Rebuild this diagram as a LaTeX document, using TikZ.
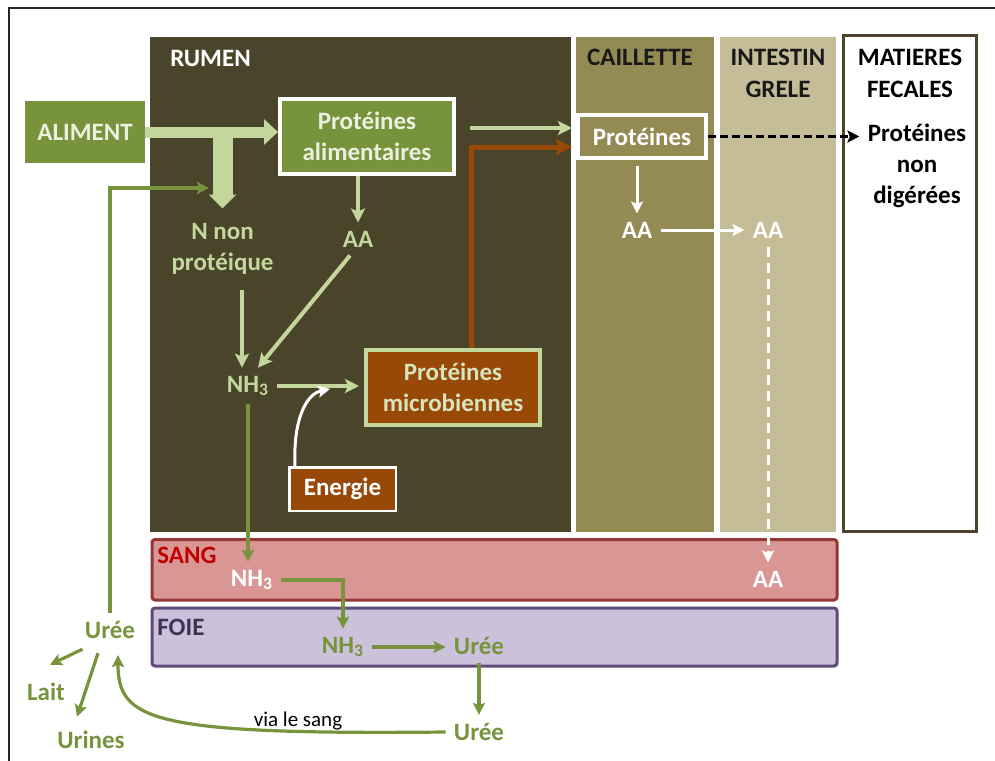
\documentclass[tikz,border=0pt]{standalone}
\usepackage{fontspec}
\setmainfont{Carlito}
\usetikzlibrary{arrows.meta,positioning,calc}
\definecolor{rumen}{HTML}{4A452A}
\definecolor{caill}{HTML}{948A54}
\definecolor{intest}{HTML}{C4BD97}
\definecolor{vert}{HTML}{77933C}
\definecolor{vertclair}{HTML}{C3D69B}
\definecolor{vertpale}{HTML}{D7E4BD}
\definecolor{blanccasse}{HTML}{EBF1DE}
\definecolor{brun}{HTML}{984807}
\definecolor{sangfond}{HTML}{D99694}
\definecolor{sangbord}{HTML}{953735}
\definecolor{sangtxt}{HTML}{C00000}
\definecolor{foiefond}{HTML}{CCC1DA}
\definecolor{foiebord}{HTML}{604A7B}
\definecolor{foietxt}{HTML}{3F3151}

\begin{document}
\begin{tikzpicture}[
    x=0.5pt, y=-0.5pt,
    font=\fontsize{12.5}{15.5}\selectfont\bfseries,
    box/.style={rectangle, align=center, inner sep=2pt},
    lab/.style={align=center, inner sep=4pt},
    zone/.style={align=center, inner sep=2pt},
    arrvc/.style={-{Stealth[length=7pt, width=7pt, inset=1.5pt]}, line width=2pt, draw=vertclair},
    arrvf/.style={-{Stealth[length=6pt, width=6pt, inset=1.2pt]}, line width=1.6pt, draw=vert},
    arrbl/.style={-{Stealth[length=6pt, width=6pt, inset=1.2pt]}, line width=1.5pt, draw=white},
    arrbr/.style={-{Stealth[length=8pt, width=8pt, inset=1.5pt]}, line width=2.5pt, draw=brun},
    grosse/.style={draw=vertclair, line width=5.5pt, -{Triangle[length=7pt, width=12.5pt]}}
  ]
    \useasboundingbox (0,0) rectangle (995,760);
    \draw[line width=1pt, black!85] (9,780) |- (1010,8);

    % compartiments
    \fill[rumen] (150,37) rectangle (571,532);
    \node[zone, text=white, anchor=west] (trumen) at (166,58) {RUMEN};
    \fill[caill] (576,37) rectangle (714,532);
    \node[zone, text=black!90] (tcaill) at (640,57) {CAILLETTE};
    \fill[intest] (720,37) rectangle (836,532);
    \node[zone, text=black!90, font=\fontsize{12.5}{16}\selectfont\bfseries] (tint) at (778,73) {INTESTIN\\GRELE};
    \draw[draw=rumen, line width=1.5pt, fill=white] (843.5,35.5) rectangle (976.5,531.5);
    \node[zone, text=black, font=\fontsize{12.5}{16}\selectfont\bfseries] (tmat) at (910,73) {MATIERES\\FECALES};
    \draw[draw=sangbord, fill=sangfond, line width=1.5pt, rounded corners=1.5pt] (152,539.5) rectangle (837,600);
    \node[zone, text=sangtxt, anchor=west] (tsang) at (153,555) {SANG};
    \draw[draw=foiebord, fill=foiefond, line width=1.5pt, rounded corners=1.5pt] (152,608) rectangle (837,666);
    \node[zone, text=foietxt, anchor=west] (tfoie) at (153,627) {FOIE};

    % boites
    \node[box, fill=vert, text=blanccasse, minimum width=60pt, minimum height=31pt] (alim) at (85,132) {ALIMENT};
    \node[box, fill=vert, draw=white, line width=2pt, text=blanccasse, minimum width=87pt, minimum height=37.5pt] (protalim) at (367,136.5) {Protéines\\alimentaires};
    \node[box, fill=brun, draw=vertclair, line width=2pt, text=vertpale, minimum width=87pt, minimum height=37.5pt] (pm) at (453,387.5) {Protéines\\microbiennes};
    \node[box, fill=brun, draw=white, line width=1.25pt, text=white, minimum width=53.25pt, minimum height=21.75pt] (energie) at (342.5,489) {Energie};
    \node[box, fill=caill, draw=white, line width=2pt, text=white, minimum width=64pt, minimum height=21.5pt] (protc) at (642,136.5) {Protéines};

    % textes
    \node[lab, text=vertclair] (nnp) at (222.5,248.5) {N non\\protéique};
    \node[lab, text=vertclair] (aa1) at (358,239) {AA};
    \node[lab, text=vertclair] (nh3r) at (248,386) {NH\textsubscript{3}};
    \node[lab, text=white] (aa2) at (637,230) {AA};
    \node[lab, text=white] (aa3) at (768,230) {AA};
    \node[lab, text=black] (pnd) at (917,166) {Protéines\\non\\digérées};
    \node[lab, text=white] (aa4) at (768,579) {AA};
    \node[lab, text=white] (nh3s) at (252,580) {NH\textsubscript{3}};
    \node[lab, text=vert] (nh3f) at (343,647) {NH\textsubscript{3}};
    \node[lab, text=vert] (ureef) at (479,646) {Urée};
    \node[lab, text=vert] (ureeb) at (479,732) {Urée};
    \node[lab, text=vert] (ureel) at (110,630) {Urée};
    \node[lab, text=vert] (lait) at (46,692) {Lait};
    \node[lab, text=vert] (urines) at (91,740) {Urines};
    \node[lab, text=black, font=\fontsize{10.5}{12}\selectfont] (via) at (298,721) {via le sang};
    \coordinate (tin) at (209,188);
    \coordinate (nrg) at (330,389);

    % fleches rumen
    \draw[grosse] (alim.east) -- (alim.east -| protalim.west);
    \draw[grosse, line width=10pt, -{Triangle[length=7pt, width=13.5pt]}, shorten >=3pt] (alim.east -| nnp.north) -- (nnp.north);
    \draw[arrvf] (ureel.north) |- (tin);
    \draw[arrvc] (aa1 |- protalim.south) -- (aa1.north);
    \draw[arrvc, shorten <=4pt] ([xshift=-3pt]nnp.south -| nh3r.north) -- ([xshift=-3pt]nh3r.north);
    \draw[arrvc] ($(aa1.south)+(-8,0)$) -- ($(nh3r.north)+(10,0)$);
    \draw[arrvc, shorten >=2.5pt] (nh3r.east) -- (nh3r.east -| pm.west);
    \draw[arrbl] ($(energie.north west)+(7,0)$) .. controls (293,420) and (306,394) .. (nrg);
    \draw[arrbr, shorten >=2pt] ($(pm.north)+(18,0)$) |- ($(protc.west)+(0,10.5)$);
    \draw[arrvc, shorten >=2pt] ($(protalim.east)+(14,-8.5)$) -- ($(protc.west)+(0,-8.5)$);

    % digestion
    \draw[black, line width=1.5pt, dash pattern=on 4pt off 2pt, -{Stealth[length=6pt, width=6pt, inset=1.2pt]}] (protc.east) -- (protc.east -| pnd.west);
    \draw[arrbl, shorten <=3pt] (protc.south -| aa2) -- (aa2.north);
    \draw[arrbl] (aa2.east) -- (aa2.east -| aa3.west);
    \draw[arrbl, dash pattern=on 5pt off 3pt] (aa3.south) -- (aa4.north);

    % sang, foie
    \draw[arrvf] (nh3r.south) -- (nh3r.south |- nh3s.north);
    \draw[arrvf] (nh3s.east) -| (nh3f.north);
    \draw[arrvf] (nh3f.east) -- (nh3f.east -| ureef.west);
    \draw[arrvf] (ureef.south) -- (ureeb.north);
    \draw[arrvf] (ureeb.west) .. controls (150,735) and (118,720) .. ($(ureel.south)+(8,8)$);
    \draw[arrvf] ($(ureel.south west)+(6,2)$) -- ($(lait.north)+(4,-10)$);
    \draw[arrvf] ($(ureel.south)+(-12,6)$) -- ($(urines.north)+(-14,-6)$);
  \end{tikzpicture}
\end{document}
